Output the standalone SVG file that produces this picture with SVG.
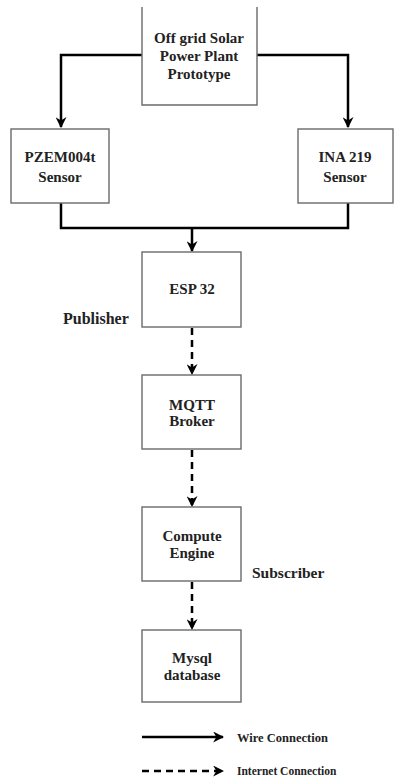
<svg xmlns="http://www.w3.org/2000/svg" width="394" height="780" viewBox="0 0 394 780">
<defs>
<marker id="ah" viewBox="0 0 10 10" refX="9" refY="5" markerWidth="4.4" markerHeight="4.4" orient="auto" markerUnits="strokeWidth">
<path d="M0,0 L10,5 L0,10 L3,5 Z" fill="#000"/>
</marker>
</defs>
<style>
.box{fill:#fff;stroke:#6a6a6a;stroke-width:1.4}
.t{font-family:"Liberation Serif","Times New Roman",serif;font-weight:bold;fill:#222;text-anchor:middle;font-size:15px}
.s{font-family:"Liberation Serif","Times New Roman",serif;font-weight:bold;fill:#222}
.w{fill:none;stroke:#000;stroke-width:2.5}
.d{fill:none;stroke:#000;stroke-width:2.5;stroke-dasharray:7 5}
</style>
<rect width="394" height="780" fill="#fff"/>
<g id="connectors">
<path class="w" d="M142,55 H61 V127" marker-end="url(#ah)"/>
<path class="w" d="M257,55 H348 V127" marker-end="url(#ah)"/>
<path class="w" d="M61,203 V228 H348 V203"/>
<path class="w" d="M192,228 V251" marker-end="url(#ah)"/>
<path class="d" d="M192,328 V374" marker-end="url(#ah)"/>
<path class="d" d="M192,450 V506" marker-end="url(#ah)"/>
<path class="d" d="M192,582 V629" marker-end="url(#ah)"/>
</g>
<g id="solar">
<path class="box" d="M142,7 V105 H257 V7"/>
<text class="t" x="199" y="43">Off grid Solar</text>
<text class="t" x="199" y="61">Power Plant</text>
<text class="t" x="199" y="79">Prototype</text>
</g>
<g id="pzem">
<rect class="box" x="11" y="129" width="98" height="74"/>
<text class="t" x="60" y="162">PZEM004t</text>
<text class="t" x="60" y="182">Sensor</text>
</g>
<g id="ina">
<rect class="box" x="298" y="129" width="95" height="74"/>
<text class="t" x="345" y="162">INA 219</text>
<text class="t" x="345" y="182">Sensor</text>
</g>
<g id="esp">
<rect class="box" x="142" y="252" width="99" height="75"/>
<text class="t" x="192" y="294">ESP 32</text>
</g>
<g id="publisher">
<text class="s" x="63" y="324" font-size="16">Publisher</text>
</g>
<g id="mqtt">
<rect class="box" x="142" y="375" width="99" height="74"/>
<text class="t" x="192" y="409.5" font-size="13">MQTT</text>
<text class="t" x="192" y="425.5" font-size="13">Broker</text>
</g>
<g id="compute">
<rect class="box" x="142" y="507" width="99" height="74"/>
<text class="t" x="192" y="541">Compute</text>
<text class="t" x="192" y="558">Engine</text>
</g>
<g id="subscriber">
<text class="s" x="252" y="578" font-size="15.5">Subscriber</text>
</g>
<g id="mysql">
<rect class="box" x="142" y="630" width="99" height="72"/>
<text class="t" x="192" y="663">Mysql</text>
<text class="t" x="192" y="680">database</text>
</g>
<g id="legend">
<path class="w" d="M142,737 H223" marker-end="url(#ah)"/>
<path class="d" d="M142,771 H223" marker-end="url(#ah)"/>
<text class="s" x="237" y="741.5" font-size="12.5">Wire Connection</text>
<text class="s" x="237" y="775" font-size="11.5">Internet Connection</text>
</g>
</svg>
